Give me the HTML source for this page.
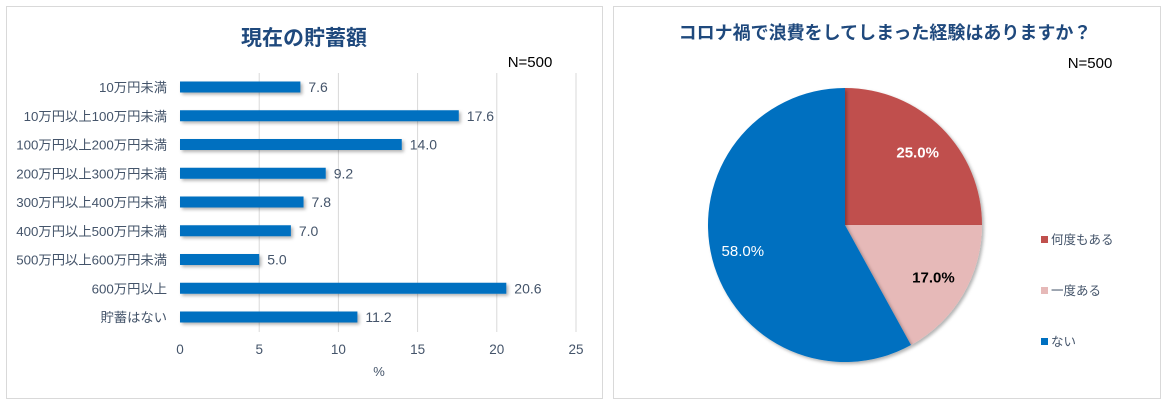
<!DOCTYPE html>
<html><head><meta charset="utf-8"><style>
body{margin:0;background:#fff;width:1163px;height:403px;overflow:hidden;font-family:"Liberation Sans","Noto Sans CJK JP",sans-serif}
.panel{position:absolute;border:1px solid #d9d9d9;background:#fff}
</style></head><body>
<div class="panel" style="left:6px;top:6px;width:595px;height:391px"></div>
<div class="panel" style="left:613px;top:6px;width:546px;height:391px"></div>
<svg width="1163" height="403" style="position:absolute;left:0;top:0" font-family="'Liberation Sans','Noto Sans CJK JP',sans-serif">
<defs><filter id="sh" x="-10%" y="-10%" width="130%" height="160%"><feDropShadow dx="2" dy="2" stdDeviation="1.5" flood-color="#000" flood-opacity="0.3"/></filter></defs>
<text x="304" y="45" text-anchor="middle" font-size="21" font-weight="bold" fill="#1f497d">現在の貯蓄額</text>
<text x="530" y="67" text-anchor="middle" font-size="15" fill="#000">N=500</text>
<g id="bars"></g>
<text x="379" y="376" text-anchor="middle" font-size="13" fill="#44546a">%</text>
<text x="885" y="39" text-anchor="middle" font-size="18" font-weight="bold" fill="#1f497d">コロナ禍で浪費をしてしまった経験はありますか？</text>
<text x="1090" y="68" text-anchor="middle" font-size="15" fill="#000">N=500</text>
<g id="pie"></g>
</svg>
<script>
const cats=["10万円未満","10万円以上100万円未満","100万円以上200万円未満","200万円以上300万円未満","300万円以上400万円未満","400万円以上500万円未満","500万円以上600万円未満","600万円以上","貯蓄はない"];
const vals=[7.6,17.6,14.0,9.2,7.8,7.0,5.0,20.6,11.2];
const ticks=[0,5,10,15,20,25];
const pieLabels=["何度もある","一度ある","ない"];
const pieVals=[25.0,17.0,58.0];
const pieColors=["#c0504d","#e6b9b8","#0070c0"];
const NS="http://www.w3.org/2000/svg";
function mk(t,a,p,txt){const e=document.createElementNS(NS,t);for(const k in a)e.setAttribute(k,a[k]);if(txt!=null)e.textContent=txt;p.appendChild(e);return e;}
const x=v=>180+v*(396/25);
const y=i=>87+i*28.75;
const g=document.getElementById('bars');
ticks.forEach(t=>{
 if(t>0){const l=mk('line',{x1:x(t),x2:x(t),y1:73,y2:332,stroke:'#d9d9d9'},g);
 
 }
 const tx=mk('text',{x:x(t),y:354,'text-anchor':'middle','font-size':13.5,fill:'#44546a'},g,String(t));
 
 
});
cats.forEach((c,i)=>{
 const lb=mk('text',{x:167,y:y(i)+5,'text-anchor':'end','font-size':13.3,fill:'#44546a'},g,c);
 
 
 const r=mk('rect',{x:x(0),y:y(i)-5.5,width:x(vals[i])-x(0),height:11,fill:'#0070c0',filter:'url(#sh)'},g);
 
 
 const v=mk('text',{x:x(vals[i])+8,y:y(i)+5,'font-size':14,fill:'#44546a'},g,vals[i].toFixed(1));
 
 
});
const p=document.getElementById('pie');
const cx=845,cy=225,R=137;let a0=0;const tot=pieVals.reduce((s,v)=>s+v,0);
const lr=[0.75,0.75,0.77];
pieVals.forEach((v,i)=>{
 const a1=a0+v/tot*2*Math.PI;
 const pt=a=>[cx+R*Math.sin(a),cy-R*Math.cos(a)];
 const [x0,y0]=pt(a0),[x1,y1]=pt(a1);
 const s=mk('path',{d:`M${cx},${cy}L${x0},${y0}A${R},${R} 0 ${a1-a0>Math.PI?1:0} 1 ${x1},${y1}Z`,fill:pieColors[i],filter:'url(#sh)'},p);
 
 
 const am=(a0+a1)/2,rr=R*lr[i];
 const t=mk('text',{x:cx+rr*Math.sin(am),y:cy-rr*Math.cos(am)+5,'text-anchor':'middle','font-size':15,fill:i==1?'#000':'#fff','font-weight':i==2?'normal':'bold'},p,v.toFixed(1)+'%');
 
 
 a0=a1;
 const ly=245+i*51;
 const sq=mk('rect',{x:1041,y:ly-9,width:7,height:7,fill:pieColors[i]},p);
 
 
 const lt=mk('text',{x:1051,y:ly-1,'font-size':12.5,fill:'#44546a'},p,pieLabels[i]);
 
 
});
</script>
</body></html>
